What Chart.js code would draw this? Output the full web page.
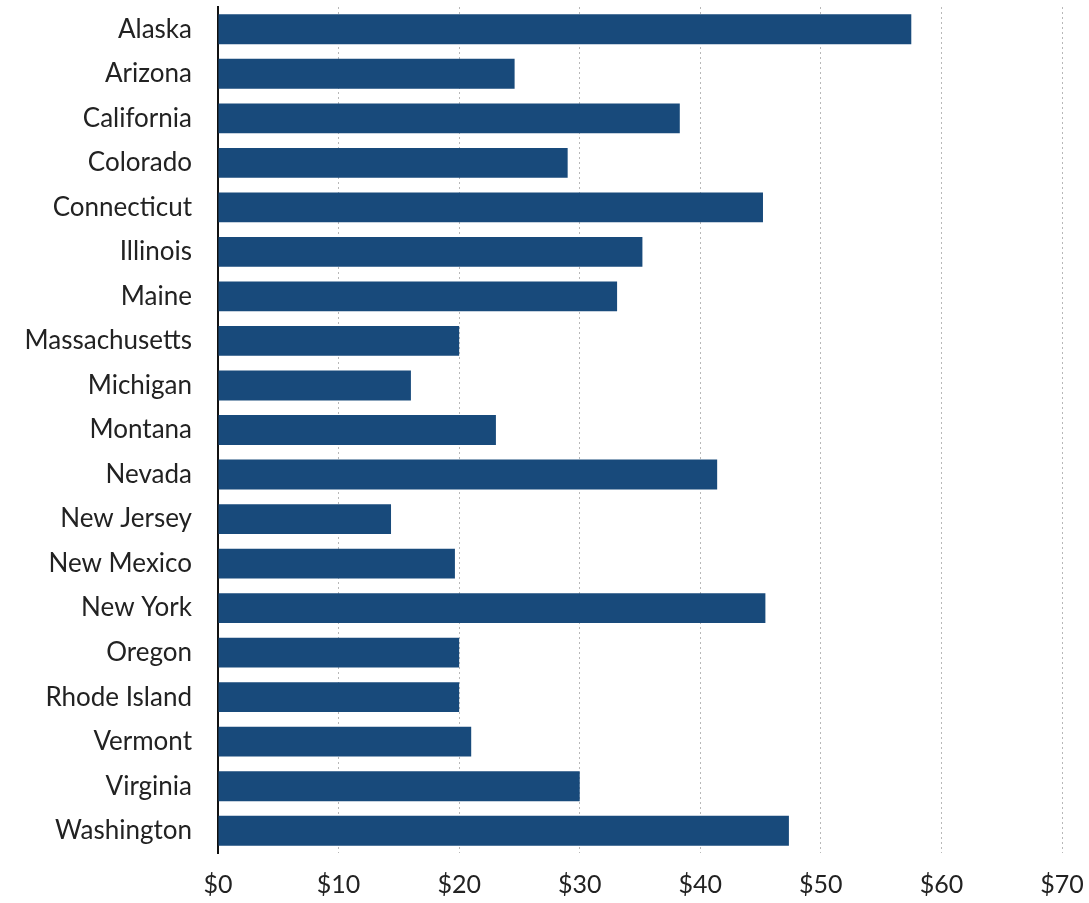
<!DOCTYPE html>
<html>
<head>
<meta charset="utf-8">
<script src="https://cdn.jsdelivr.net/npm/chart.js@4"></script>
<style>
 html, body { margin: 0; padding: 0; background: #fff; }
 #wrap { width: 1089px; height: 903px; position: relative; }
</style>
</head>
<body>
<div id="wrap"><canvas id="chart"></canvas></div>
<script>
const states = ['Alaska', 'Arizona', 'California', 'Colorado', 'Connecticut', 'Illinois', 'Maine',
 'Massachusetts', 'Michigan', 'Montana', 'Nevada', 'New Jersey', 'New Mexico', 'New York',
 'Oregon', 'Rhode Island', 'Vermont', 'Virginia', 'Washington'];
const values = [57.5, 24.6, 38.3, 29.0, 45.2, 35.2, 33.1, 20.0, 16.0, 23.05, 41.4, 14.35, 19.65, 45.4,
 20.0, 20.0, 21.0, 30.0, 47.35];
const xTicks = [0, 10, 20, 30, 40, 50, 60, 70];

const family = 'Lato, "Open Sans", sans-serif';

new Chart(document.getElementById('chart'), {
 type: 'bar',
 data: {
 labels: states,
 datasets: [{
 data: values,
 backgroundColor: '#184a7b',
 barPercentage: 0.67,
 categoryPercentage: 1,
 }],
 },
 options: {
 indexAxis: 'y',
 responsive: true,
 maintainAspectRatio: false,
 animation: false,
 layout: { padding: { top: 7, right: 27, left: 0, bottom: 0 } },
 plugins: { legend: { display: false }, tooltip: { enabled: false } },
 scales: {
 x: {
 min: 0,
 max: 70,
 afterBuildTicks: axis => { axis.ticks = xTicks.map(v => ({ value: v })); },
 afterFit: axis => { axis.height = 50; axis.paddingLeft = 0; axis.paddingRight = 0; },
 ticks: {
 color: '#222',
 font: { family, size: 25 },
 padding: 17,
 maxRotation: 0,
 callback: v => '$' + v,
 },
 grid: { color: '#b8b8b8', lineWidth: 1, drawTicks: false },
 border: { display: false, dash: [2, 3] },
 },
 y: {
 afterFit: axis => { axis.width = 218; axis.paddingTop = 0; axis.paddingBottom = 0; },
 ticks: { color: '#222', font: { family, size: 26 }, padding: 26 },
 grid: { display: false, drawTicks: false },
 border: { display: true, color: '#111', width: 2 },
 },
 },
 },
});
</script>
</body>
</html>
